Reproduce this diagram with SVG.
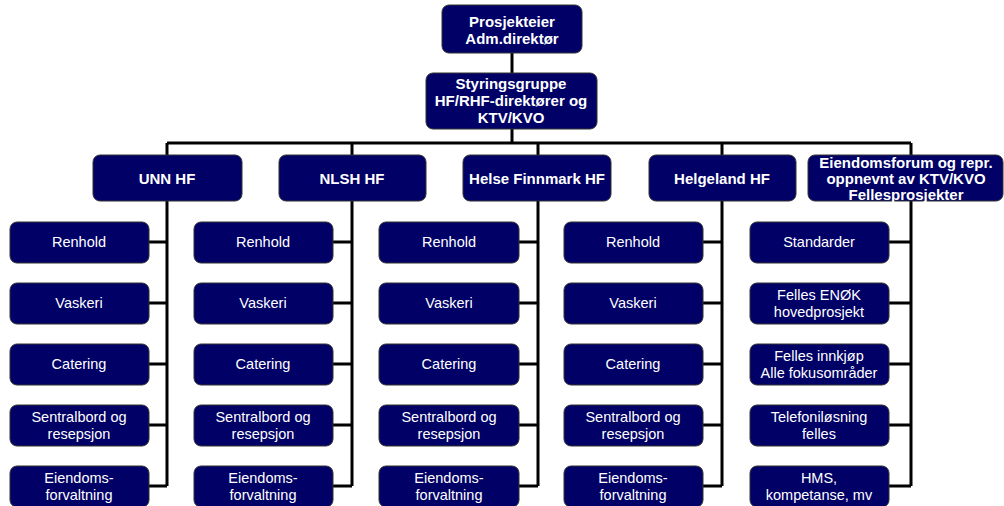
<svg xmlns="http://www.w3.org/2000/svg" width="1004" height="506" viewBox="0 0 1004 506">
<style>
.box{fill:#000066;stroke:#333333;stroke-width:1}
.t{font-family:"Liberation Sans",Arial,sans-serif;fill:#ffffff;text-anchor:middle}
.b{font-size:15px;font-weight:bold}
.r{font-size:14.5px}
.c{fill:none;stroke:#000000;stroke-width:3}
</style>
<rect width="1004" height="506" fill="#ffffff"/>
<g id="connectors">
<path class="c" d="M512 53V73M512 129V143M167 143H911M167 143V155M352 143V155M538 143V155M722 143V155M911 143V155"/>
<path class="c" d="M167 201V486M149 242H167M149 303H167M149 364H167M149 425H167M149 486H167"/>
<path class="c" d="M352 201V486M333 242H352M333 303H352M333 364H352M333 425H352M333 486H352"/>
<path class="c" d="M538 201V486M519 242H538M519 303H538M519 364H538M519 425H538M519 486H538"/>
<path class="c" d="M722 201V486M703 242H722M703 303H722M703 364H722M703 425H722M703 486H722"/>
<path class="c" d="M911 201V486M889 242H911M889 303H911M889 364H911M889 425H911M889 486H911"/>
</g>
<g id="n-prosjekteier"><rect class="box" x="442" y="5" width="140" height="48" rx="7"/><text class="t b" x="512" y="27">Prosjekteier</text><text class="t b" x="512" y="44">Adm.direktør</text></g>
<g id="n-styringsgruppe"><rect class="box" x="426" y="73" width="171" height="56" rx="7"/><text class="t b" x="511" y="89">Styringsgruppe</text><text class="t b" x="511" y="106">HF/RHF-direktører og</text><text class="t b" x="511" y="123">KTV/KVO</text></g>
<g id="n-unn"><rect class="box" x="93" y="155" width="149" height="46" rx="7"/><text class="t b" x="167" y="184">UNN HF</text></g>
<g id="n-nlsh"><rect class="box" x="279" y="155" width="147" height="46" rx="7"/><text class="t b" x="352" y="184">NLSH HF</text></g>
<g id="n-finnmark"><rect class="box" x="463" y="155" width="148" height="46" rx="7"/><text class="t b" x="537" y="184">Helse Finnmark HF</text></g>
<g id="n-helgeland"><rect class="box" x="649" y="155" width="147" height="46" rx="7"/><text class="t b" x="722" y="184">Helgeland HF</text></g>
<g id="n-eiendomsforum"><rect class="box" x="808" y="155" width="195" height="46" rx="7"/><text class="t b" x="906" y="168">Eiendomsforum og repr.</text><text class="t b" x="906" y="184">oppnevnt av KTV/KVO</text><text class="t b" x="906" y="200">Fellesprosjekter</text></g>
<g id="unn-leaves">
<g id="unn-renhold"><rect class="box" x="10" y="222" width="139" height="41" rx="7"/><text class="t r" x="79" y="247">Renhold</text></g>
<g id="unn-vaskeri"><rect class="box" x="10" y="283" width="139" height="41" rx="7"/><text class="t r" x="79" y="308">Vaskeri</text></g>
<g id="unn-catering"><rect class="box" x="10" y="344" width="139" height="41" rx="7"/><text class="t r" x="79" y="369">Catering</text></g>
<g id="unn-sentralbord"><rect class="box" x="10" y="405" width="139" height="41" rx="7"/><text class="t r" x="79" y="422">Sentralbord og</text><text class="t r" x="79" y="439">resepsjon</text></g>
<g id="unn-eiendom"><rect class="box" x="10" y="466" width="139" height="41" rx="7"/><text class="t r" x="79" y="483">Eiendoms-</text><text class="t r" x="79" y="500">forvaltning</text></g>
</g>
<g id="nlsh-leaves">
<g id="nlsh-renhold"><rect class="box" x="194" y="222" width="139" height="41" rx="7"/><text class="t r" x="263" y="247">Renhold</text></g>
<g id="nlsh-vaskeri"><rect class="box" x="194" y="283" width="139" height="41" rx="7"/><text class="t r" x="263" y="308">Vaskeri</text></g>
<g id="nlsh-catering"><rect class="box" x="194" y="344" width="139" height="41" rx="7"/><text class="t r" x="263" y="369">Catering</text></g>
<g id="nlsh-sentralbord"><rect class="box" x="194" y="405" width="139" height="41" rx="7"/><text class="t r" x="263" y="422">Sentralbord og</text><text class="t r" x="263" y="439">resepsjon</text></g>
<g id="nlsh-eiendom"><rect class="box" x="194" y="466" width="139" height="41" rx="7"/><text class="t r" x="263" y="483">Eiendoms-</text><text class="t r" x="263" y="500">forvaltning</text></g>
</g>
<g id="finnmark-leaves">
<g id="finnmark-renhold"><rect class="box" x="379" y="222" width="140" height="41" rx="7"/><text class="t r" x="449" y="247">Renhold</text></g>
<g id="finnmark-vaskeri"><rect class="box" x="379" y="283" width="140" height="41" rx="7"/><text class="t r" x="449" y="308">Vaskeri</text></g>
<g id="finnmark-catering"><rect class="box" x="379" y="344" width="140" height="41" rx="7"/><text class="t r" x="449" y="369">Catering</text></g>
<g id="finnmark-sentralbord"><rect class="box" x="379" y="405" width="140" height="41" rx="7"/><text class="t r" x="449" y="422">Sentralbord og</text><text class="t r" x="449" y="439">resepsjon</text></g>
<g id="finnmark-eiendom"><rect class="box" x="379" y="466" width="140" height="41" rx="7"/><text class="t r" x="449" y="483">Eiendoms-</text><text class="t r" x="449" y="500">forvaltning</text></g>
</g>
<g id="helgeland-leaves">
<g id="helgeland-renhold"><rect class="box" x="564" y="222" width="139" height="41" rx="7"/><text class="t r" x="633" y="247">Renhold</text></g>
<g id="helgeland-vaskeri"><rect class="box" x="564" y="283" width="139" height="41" rx="7"/><text class="t r" x="633" y="308">Vaskeri</text></g>
<g id="helgeland-catering"><rect class="box" x="564" y="344" width="139" height="41" rx="7"/><text class="t r" x="633" y="369">Catering</text></g>
<g id="helgeland-sentralbord"><rect class="box" x="564" y="405" width="139" height="41" rx="7"/><text class="t r" x="633" y="422">Sentralbord og</text><text class="t r" x="633" y="439">resepsjon</text></g>
<g id="helgeland-eiendom"><rect class="box" x="564" y="466" width="139" height="41" rx="7"/><text class="t r" x="633" y="483">Eiendoms-</text><text class="t r" x="633" y="500">forvaltning</text></g>
</g>
<g id="felles-leaves">
<g id="felles-standarder"><rect class="box" x="750" y="222" width="139" height="41" rx="7"/><text class="t r" x="819" y="247">Standarder</text></g>
<g id="felles-enok"><rect class="box" x="750" y="283" width="139" height="41" rx="7"/><text class="t r" x="819" y="300">Felles ENØK</text><text class="t r" x="819" y="317">hovedprosjekt</text></g>
<g id="felles-innkjop"><rect class="box" x="750" y="344" width="139" height="41" rx="7"/><text class="t r" x="819" y="361">Felles innkjøp</text><text class="t r" x="819" y="378">Alle fokusområder</text></g>
<g id="felles-telefoni"><rect class="box" x="750" y="405" width="139" height="41" rx="7"/><text class="t r" x="819" y="422">Telefoniløsning</text><text class="t r" x="819" y="439">felles</text></g>
<g id="felles-hms"><rect class="box" x="750" y="466" width="139" height="41" rx="7"/><text class="t r" x="819" y="483">HMS,</text><text class="t r" x="819" y="500">kompetanse, mv</text></g>
</g>
</svg>
